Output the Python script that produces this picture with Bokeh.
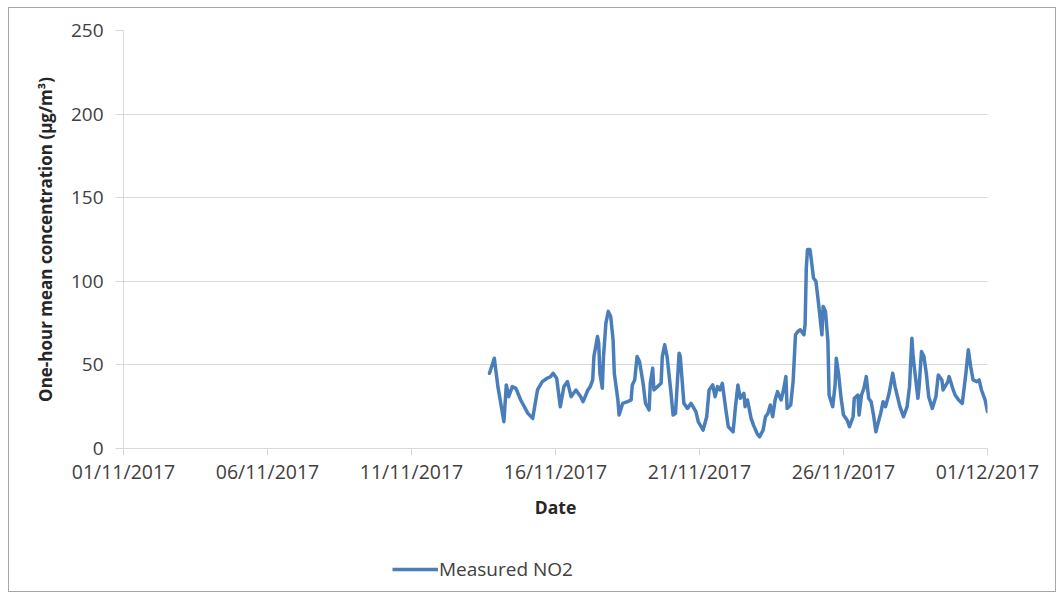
import pandas as pd
from bokeh.plotting import figure
from bokeh.layouts import column, row
from bokeh.models import (Range1d, FixedTicker, DatetimeTickFormatter, Legend,
                          LegendItem, ColumnDataSource, Spacer)
from bokeh.embed import file_html
from bokeh.resources import INLINE

# ---------------- data ----------------
times = [
    "2017-11-13 17:00", "2017-11-13 21:00", "2017-11-14 00:00", "2017-11-14 05:00",
    "2017-11-14 07:00", "2017-11-14 09:00", "2017-11-14 12:00", "2017-11-14 15:00",
    "2017-11-14 19:00", "2017-11-15 01:00", "2017-11-15 05:00", "2017-11-15 09:00",
    "2017-11-15 13:00", "2017-11-15 17:00", "2017-11-15 20:00", "2017-11-15 22:00",
    "2017-11-16 01:00", "2017-11-16 04:00", "2017-11-16 07:00", "2017-11-16 10:00",
    "2017-11-16 13:00", "2017-11-16 17:00", "2017-11-16 21:00", "2017-11-16 23:00",
    "2017-11-17 03:00", "2017-11-17 05:00", "2017-11-17 07:00", "2017-11-17 08:00",
    "2017-11-17 11:00", "2017-11-17 12:00", "2017-11-17 13:00", "2017-11-17 15:00",
    "2017-11-17 16:00", "2017-11-17 18:00", "2017-11-17 20:00", "2017-11-17 22:00",
    "2017-11-18 00:00", "2017-11-18 01:00", "2017-11-18 04:00", "2017-11-18 05:00",
    "2017-11-18 08:00", "2017-11-18 12:00", "2017-11-18 15:00", "2017-11-18 16:00",
    "2017-11-18 18:00", "2017-11-18 20:00", "2017-11-18 22:00", "2017-11-19 01:00",
    "2017-11-19 03:00", "2017-11-19 06:00", "2017-11-19 07:00", "2017-11-19 09:00",
    "2017-11-19 10:00", "2017-11-19 13:00", "2017-11-19 16:00", "2017-11-19 17:00",
    "2017-11-19 19:00", "2017-11-19 21:00", "2017-11-20 00:00", "2017-11-20 02:00",
    "2017-11-20 04:00", "2017-11-20 07:00", "2017-11-20 08:00", "2017-11-20 11:00",
    "2017-11-20 14:00", "2017-11-20 17:00", "2017-11-20 21:00", "2017-11-20 23:00",
    "2017-11-21 03:00", "2017-11-21 06:00", "2017-11-21 08:00", "2017-11-21 11:00",
    "2017-11-21 13:00", "2017-11-21 15:00", "2017-11-21 17:00", "2017-11-21 19:00",
    "2017-11-21 22:00", "2017-11-22 00:00", "2017-11-22 04:00", "2017-11-22 06:00",
    "2017-11-22 08:00", "2017-11-22 10:00", "2017-11-22 13:00", "2017-11-22 14:00",
    "2017-11-22 16:00", "2017-11-22 19:00", "2017-11-22 21:00", "2017-11-23 00:00",
    "2017-11-23 02:00", "2017-11-23 05:00", "2017-11-23 07:00", "2017-11-23 09:00",
    "2017-11-23 11:00", "2017-11-23 13:00", "2017-11-23 15:00", "2017-11-23 17:00",
    "2017-11-23 20:00", "2017-11-23 22:00", "2017-11-24 00:00", "2017-11-24 01:00",
    "2017-11-24 04:00", "2017-11-24 06:00", "2017-11-24 08:00", "2017-11-24 10:00",
    "2017-11-24 12:00", "2017-11-24 15:00", "2017-11-24 16:00", "2017-11-24 17:00",
    "2017-11-24 18:00", "2017-11-24 20:00", "2017-11-24 21:00", "2017-11-24 23:00",
    "2017-11-25 01:00", "2017-11-25 03:00", "2017-11-25 06:00", "2017-11-25 07:00",
    "2017-11-25 09:00", "2017-11-25 11:00", "2017-11-25 12:00", "2017-11-25 15:00",
    "2017-11-25 17:00", "2017-11-25 18:00", "2017-11-25 20:00", "2017-11-25 22:00",
    "2017-11-26 00:00", "2017-11-26 03:00", "2017-11-26 05:00", "2017-11-26 08:00",
    "2017-11-26 09:00", "2017-11-26 12:00", "2017-11-26 13:00", "2017-11-26 15:00",
    "2017-11-26 17:00", "2017-11-26 19:00", "2017-11-26 21:00", "2017-11-26 23:00",
    "2017-11-27 01:00", "2017-11-27 03:00", "2017-11-27 04:00", "2017-11-27 07:00",
    "2017-11-27 09:00", "2017-11-27 11:00", "2017-11-27 14:00", "2017-11-27 17:00",
    "2017-11-27 19:00", "2017-11-27 23:00", "2017-11-28 02:00", "2017-11-28 05:00",
    "2017-11-28 07:00", "2017-11-28 09:00", "2017-11-28 10:00", "2017-11-28 14:00",
    "2017-11-28 15:00", "2017-11-28 17:00", "2017-11-28 19:00", "2017-11-28 21:00",
    "2017-11-28 23:00", "2017-11-29 02:00", "2017-11-29 05:00", "2017-11-29 07:00",
    "2017-11-29 10:00", "2017-11-29 11:00", "2017-11-29 15:00", "2017-11-29 16:00",
    "2017-11-29 19:00", "2017-11-29 21:00", "2017-11-30 00:00", "2017-11-30 03:00",
    "2017-11-30 06:00", "2017-11-30 08:00", "2017-11-30 10:00", "2017-11-30 12:00",
    "2017-11-30 15:00", "2017-11-30 17:00", "2017-11-30 19:00", "2017-11-30 22:00",
    "2017-12-01 00:00",
]
no2 = [
    45, 54, 37, 16, 38, 31, 37, 36,
    29, 21, 18, 35, 40, 42, 43, 45,
    42, 25, 37, 40, 31, 35, 31, 28,
    35, 37, 41, 55, 67, 63, 45, 36,
    55, 75, 82, 79, 65, 45, 29, 20,
    27, 28, 29, 38, 41, 55, 52, 39,
    27, 23, 39, 48, 35, 37, 39, 55,
    62, 55, 35, 20, 21, 57, 55, 27,
    24, 27, 22, 16, 11, 19, 35, 38,
    31, 37, 35, 39, 23, 13, 10, 25,
    38, 30, 33, 25, 29, 18, 14, 9,
    7, 11, 19, 21, 26, 19, 29, 34,
    29, 35, 43, 24, 26, 40, 68, 70,
    71, 68, 74, 108, 119, 119, 114, 102,
    100, 88, 68, 85, 82, 64, 32, 25,
    38, 54, 44, 30, 20, 17, 13, 19,
    30, 32, 20, 32, 36, 43, 30, 28,
    20, 10, 13, 21, 28, 25, 33, 45,
    37, 25, 19, 25, 37, 66, 55, 30,
    37, 58, 55, 45, 31, 24, 31, 44,
    41, 35, 40, 43, 36, 32, 29, 27,
    45, 59, 49, 41, 40, 41, 35, 29,
    22,
]
series_name = "Measured NO2"
x_tick_labels = ["01/11/2017", "06/11/2017", "11/11/2017", "16/11/2017",
                 "21/11/2017", "26/11/2017", "01/12/2017"]
y_ticks = [0, 50, 100, 150, 200, 250]
x_title = "Date"
y_title = "One-hour mean concentration (µg/m³)"

# ---------------- styling ----------------
FONT = "Open Sans"
GRID = "#d9d9d9"
TICK_TXT = "#404040"
TITLE_TXT = "#262626"
LINE = "#4a7ebb"
FIG_W = 1046

tick_dates = pd.to_datetime(x_tick_labels, format="%d/%m/%Y")
src = ColumnDataSource(dict(t=pd.to_datetime(times), v=no2))

# ---------------- main chart ----------------
p = figure(width=FIG_W, height=520, x_axis_type="datetime",
           output_backend="svg", toolbar_location=None,
           x_range=Range1d(tick_dates[0], tick_dates[-1]),
           y_range=Range1d(y_ticks[0], y_ticks[-1]),
           min_border_left=114, min_border_right=68,
           min_border_top=22, min_border_bottom=80)
p.outline_line_color = None
p.background_fill_color = "white"
p.border_fill_color = "white"

r = p.line("t", "v", source=src, line_color=LINE, line_width=3.5,
           line_join="round", line_cap="round")

xa = p.xaxis[0]
xa.ticker = FixedTicker(ticks=[d.value // 10**6 for d in tick_dates])
xa.formatter = DatetimeTickFormatter(days="%d/%m/%Y", months="%d/%m/%Y",
                                     years="%d/%m/%Y", hours="%d/%m/%Y")
xa.axis_line_color = GRID
xa.major_tick_line_color = GRID
xa.major_tick_out = 7
xa.major_tick_in = 0
xa.minor_tick_line_color = None
xa.major_label_text_font = FONT
xa.major_label_text_font_size = "19.5px"
xa.major_label_text_color = TICK_TXT
xa.major_label_standoff = 2
xa.axis_label = x_title
xa.axis_label_text_font = FONT
xa.axis_label_text_font_size = "17.5px"
xa.axis_label_text_font_style = "bold"
xa.axis_label_text_color = TITLE_TXT
xa.axis_label_standoff = 7

ya = p.yaxis[0]
ya.ticker = FixedTicker(ticks=y_ticks)
ya.axis_line_color = GRID
ya.major_tick_line_color = GRID
ya.major_tick_out = 8
ya.major_tick_in = 0
ya.minor_tick_line_color = None
ya.major_label_text_font = FONT
ya.major_label_text_font_size = "19px"
ya.major_label_text_color = TICK_TXT
ya.major_label_standoff = 12
ya.axis_label = y_title
ya.axis_label_text_font = FONT
ya.axis_label_text_font_size = "17px"
ya.axis_label_text_font_style = "bold"
ya.axis_label_text_color = TITLE_TXT
ya.axis_label_standoff = 11

p.xgrid.grid_line_color = None
p.ygrid.ticker = FixedTicker(ticks=y_ticks)
p.ygrid.grid_line_color = GRID
p.ygrid.grid_line_width = 1

# ---------------- legend strip (same series, kept out of view) ----------------
lf = figure(width=FIG_W, height=63, x_axis_type=None, y_axis_type=None,
            output_backend="svg", toolbar_location=None,
            x_range=Range1d(tick_dates[0], tick_dates[-1]),
            y_range=Range1d(1000, 1001),
            min_border=0)
lf.outline_line_color = None
lf.xgrid.grid_line_color = None
lf.ygrid.grid_line_color = None
lf.border_fill_color = "white"
lf.background_fill_color = "white"
key = lf.line("t", "v", source=src, line_color=LINE, line_width=3.5)

legend = Legend(items=[LegendItem(label=series_name, renderers=[key])],
                location=(269, 9), orientation="horizontal",
                padding=0, margin=0, spacing=0,
                glyph_width=46, glyph_height=24, label_standoff=1,
                label_text_font=FONT, label_text_font_size="19px",
                label_text_color=TICK_TXT,
                border_line_color=None, background_fill_alpha=0)
lf.add_layout(legend)

box = column(p, lf, spacing=0, styles={"border": "1px solid #a6a6a6"})
page = column(Spacer(height=7), row(Spacer(width=8), box, spacing=0), spacing=0)

open("out.html", "w").write(file_html(page, INLINE))
